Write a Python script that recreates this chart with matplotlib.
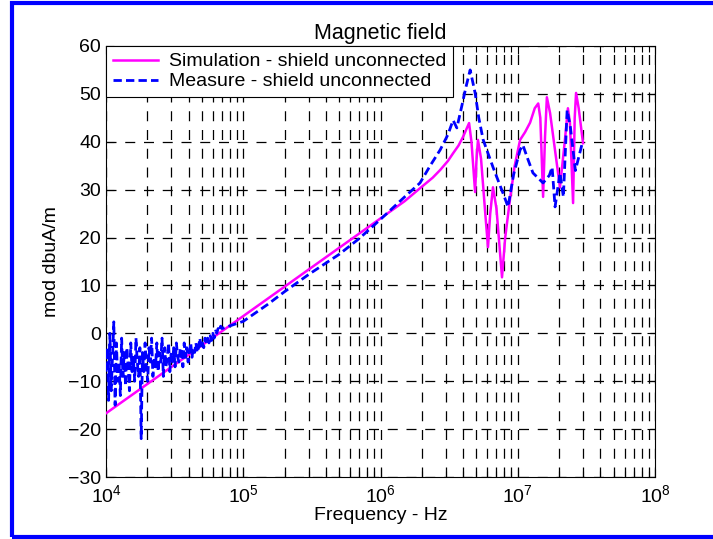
import numpy as np
import matplotlib
matplotlib.use("Agg")
import matplotlib.pyplot as plt
from matplotlib.patches import Rectangle
from matplotlib.ticker import LogLocator, NullFormatter

plt.rcParams['font.family'] = ['Liberation Sans', 'DejaVu Sans']
plt.rcParams['mathtext.fontset'] = 'custom'
plt.rcParams['mathtext.rm'] = 'Liberation Sans'
plt.rcParams['mathtext.it'] = 'Liberation Sans'

# ---- data ----
title = "Magnetic field"
xlabel = "Frequency - Hz"
ylabel = "mod dbuA/m"
sim_label = "Simulation - shield unconnected"
meas_label = "Measure - shield unconnected"

sim_freq = [1e4, 1e5, 1e6, 1.5e6, 1.94e6, 2.4e6, 2.72e6, 3.1e6, 3.38e6, 3.7e6, 3.99e6,
            4.25e6, 4.42e6, 4.6e6, 4.89e6, 5.0e6, 5.13e6, 5.4e6, 5.8e6,
            6.07e6, 6.3e6, 6.6e6, 7.0e6, 7.68e6, 8.1e6, 8.78e6, 9.5e6, 1.04e7,
            1.13e7, 1.23e7, 1.33e7, 1.41e7, 1.46e7, 1.53e7, 1.58e7, 1.63e7,
            1.72e7, 2.03e7, 2.2e7, 2.32e7, 2.4e7, 2.53e7, 2.6e7, 2.66e7,
            2.78e7, 2.99e7]
sim_val = [-16.7, 3.6, 24.0, 27.6, 30.3, 32.5, 34.1, 36.0, 37.6, 39.2, 41.0,
           42.8, 43.9, 40.0, 29.5, 36.0, 40.4, 36.5, 25.0,
           18.0, 25.0, 30.5, 26.0, 11.7, 20.0, 28.0, 35.0, 40.4,
           42.0, 44.0, 47.0, 48.0, 45.0, 28.5, 41.0, 49.3,
           46.0, 30.5, 40.0, 47.0, 44.0, 27.2, 45.0, 50.2,
           47.0, 39.7]

# noisy low-frequency part of the measurement (1e4 .. 7e4 Hz)
meas_noise_val = [-8, -3, -14, 0, -12, -5, 2.4, -15, -2, -10, -6, -13, -1, -9, -4,
                  -11, -3, -7, -12, -2, -8, -5, -10, -1, -6, -9, -3, -22, -4, -8,
                  -2, -7, -10, -3, -6, -1, -9, -5, -7, -2, -8, -4, -6, -1, -9,
                  -3, -7, -5, -2, -8, -4, -6, -3, -7, -2, -5, -6, -3, -4, -7,
                  -2, -5, -3, -6, -4, -2, -5, -3, -4, -2, -4, -3, -1, -3, -2,
                  -3, -1, -2, -1, -2, -0.5, -1.5, 0, -1, 0.5, 0, 1, 0.5, 1.5, 1]
meas_noise_freq = np.geomspace(1e4, 7e4, len(meas_noise_val))

meas_freq = [1e5, 1.5e5, 2e5, 3e5, 5e5, 7e5, 1e6, 1.5e6, 1.94e6, 2.3e6, 2.72e6,
             3.1e6, 3.38e6, 3.6e6, 3.9e6, 4.2e6, 4.5e6, 4.89e6, 5.2e6, 5.6e6,
             6.6e6, 7.8e6, 8.5e6, 9.3e6, 1.04e7, 1.09e7, 1.18e7, 1.29e7, 1.53e7,
             1.7e7, 1.78e7, 1.87e7, 2.03e7, 2.15e7, 2.29e7, 2.42e7, 2.63e7, 2.95e7]
meas_val = [2.5, 6.0, 8.7, 12.3, 16.5, 19.8, 23.8, 28.5, 31.4, 35.0, 38.3,
            41.5, 44.5, 42.9, 47.3, 51.5, 55.0, 50.2, 45.0, 40.4,
            34.7, 29.3, 26.4, 33.0, 38.3, 39.3, 36.5, 33.5, 31.4,
            33.0, 34.7, 26.4, 33.5, 28.5, 46.6, 43.0, 34.0, 39.7]

xticks = [1e4, 1e5, 1e6, 1e7, 1e8]
xticklabels = ["$10^{4}$", "$10^{5}$", "$10^{6}$", "$10^{7}$", "$10^{8}$"]
yticks = [-30, -20, -10, 0, 10, 20, 30, 40, 50, 60]

# ---- figure ----
fig = plt.figure(figsize=(7.13, 5.39), dpi=100)
ax = fig.add_axes([106/713, 1 - 477/539, (655-106)/713, (477-46)/539])

ax.plot(sim_freq, sim_val, color='#ff00ff', lw=1.8, label=sim_label, zorder=3)
mf = list(meas_noise_freq) + meas_freq
mv = list(meas_noise_val) + meas_val
ax.plot(mf, mv, color='#0000ff', lw=2.0, ls=(0, (3, 1.5)), label=meas_label, zorder=4)

ax.set_xscale('log')
ax.set_xlim(1e4, 1e8)
ax.set_ylim(-30, 60)
ax.set_xticks(xticks)
ax.set_xticklabels(xticklabels)
ax.xaxis.set_minor_locator(LogLocator(base=10, subs=np.arange(2, 10)))
ax.xaxis.set_minor_formatter(NullFormatter())
ax.set_yticks(yticks)

grid_ls = (0, (8, 7))
ax.grid(True, which='major', axis='both', color='black', lw=0.9, ls=grid_ls)
ax.grid(True, which='minor', axis='x', color='black', lw=0.9, ls=grid_ls)

ax.tick_params(which='both', direction='in', top=True, right=True, labelsize=14,
               colors='black')
ax.tick_params(which='major', length=6, width=0.8)
ax.tick_params(which='minor', length=4, width=0.8)
ax.tick_params(axis='x', pad=5)
for s in ax.spines.values():
    s.set_linewidth(0.8)

ax.set_title(title, fontsize=15.5, pad=5)
ax.set_xlabel(xlabel, fontsize=14, labelpad=1)
ax.set_ylabel(ylabel, fontsize=14, labelpad=6)

leg = ax.legend(loc='upper left', borderaxespad=0, fancybox=False, framealpha=1,
                edgecolor='black', fontsize=14, handlelength=2.3, borderpad=0.35,
                labelspacing=0.12, handletextpad=0.6)
leg.get_frame().set_linewidth(0.8)
leg.set_zorder(10)

fig.patches.append(Rectangle((12/713, 2.5/539), 1.0, (536-2.5)/539,
                             transform=fig.transFigure, fill=False,
                             edgecolor='#0000ff', lw=3, clip_on=False))

fig.savefig("out.png", dpi=100)
